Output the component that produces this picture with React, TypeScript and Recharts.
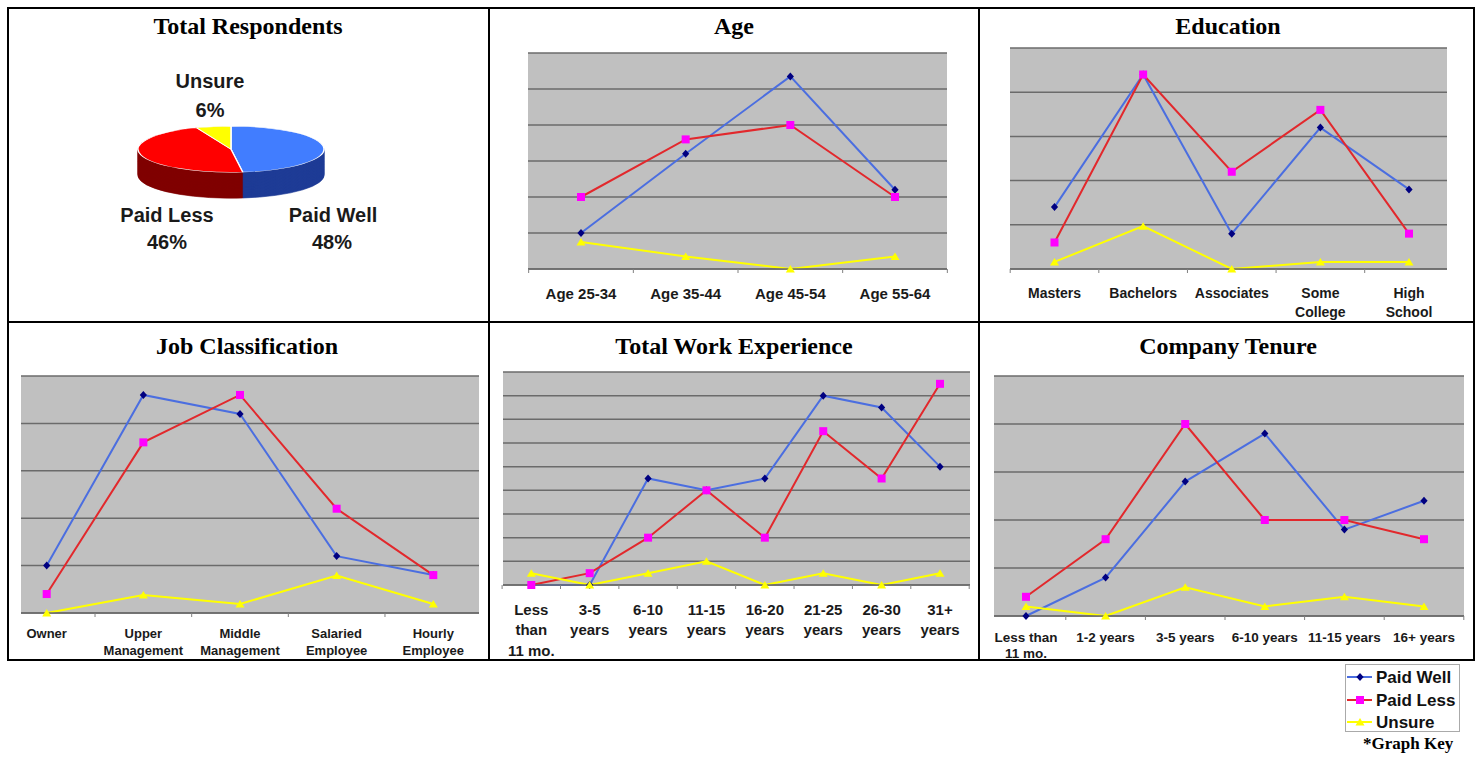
import React from "react";
import { LineChart, Line, XAxis, YAxis, CartesianGrid, PieChart, Pie, Cell } from "recharts";

// ---------- DATA ----------
const pieLabels = ["Paid Well", "Paid Less", "Unsure"];
const pieValues = [48, 46, 6];

const ageCats = ["Age 25-34", "Age 35-44", "Age 45-54", "Age 55-64"];
const agePaidWell = [1, 3.2, 5.35, 2.2];
const agePaidLess = [2, 3.6, 4, 2];
const ageUnsure = [0.75, 0.35, 0, 0.35];

const eduCats = ["Masters", "Bachelors", "Associates", "Some\nCollege", "High\nSchool"];
const eduPaidWell = [1.4, 4.4, 0.8, 3.2, 1.8];
const eduPaidLess = [0.6, 4.4, 2.2, 3.6, 0.8];
const eduUnsure = [0.16, 0.97, 0, 0.16, 0.16];

const jobCats = ["Owner", "Upper\nManagement", "Middle\nManagement", "Salaried\nEmployee", "Hourly\nEmployee"];
const jobPaidWell = [1.0, 4.6, 4.2, 1.2, 0.8];
const jobPaidLess = [0.4, 3.6, 4.6, 2.2, 0.8];
const jobUnsure = [0, 0.38, 0.19, 0.79, 0.19];

const workCats = ["Less\nthan\n11 mo.", "3-5\nyears", "6-10\nyears", "11-15\nyears", "16-20\nyears", "21-25\nyears", "26-30\nyears", "31+\nyears"];
const workPaidWell = [0, 0, 4.5, 4, 4.5, 8, 7.5, 5];
const workPaidLess = [0, 0.5, 2, 4, 2, 6.5, 4.5, 8.5];
const workUnsure = [0.5, 0, 0.5, 1, 0, 0.5, 0, 0.5];

const tenureCats = ["Less than\n11 mo.", "1-2 years", "3-5 years", "6-10 years", "11-15 years", "16+ years"];
const tenurePaidWell = [0, 0.8, 2.8, 3.8, 1.8, 2.4];
const tenurePaidLess = [0.4, 1.6, 4, 2, 2, 1.6];
const tenureUnsure = [0.2, 0, 0.6, 0.2, 0.4, 0.2];

// ---------- STYLE ----------
const SERIF = "'Liberation Serif', 'Times New Roman', serif";
const SANS = "'Liberation Sans', Arial, sans-serif";
const BLUE = "#4B6EE0";
const RED = "#E2282C";
const YELLOW = "#FFFF00";
const NAVY = "#000080";
const MAGENTA = "#FF00FF";
const GRID = "#6b6b6b";

type Cfg = {
  cats: string[];
  pw: number[];
  pl: number[];
  un: number[];
  max: number;
  x0: number;
  x1: number;
  y0: number;
  y1: number;
  padL: number;
  padR: number;
  fs: number;
  base: number;
  lineH: number;
};

const diamond = (p: any) => {
  if (p.cx == null || p.cy == null) return <g key={p.index} />;
  const { cx, cy } = p;
  return <path key={p.index} d={`M${cx},${cy - 4}L${cx + 3.6},${cy}L${cx},${cy + 4}L${cx - 3.6},${cy}Z`} fill={NAVY} />;
};
const square = (p: any) => {
  if (p.cx == null || p.cy == null) return <g key={p.index} />;
  return <rect key={p.index} x={p.cx - 4} y={p.cy - 4} width={8} height={8} fill={MAGENTA} />;
};
const triangle = (p: any) => {
  if (p.cx == null || p.cy == null) return <g key={p.index} />;
  const { cx, cy } = p;
  return <path key={p.index} d={`M${cx},${cy - 4}L${cx + 4.5},${cy + 3.5}L${cx - 4.5},${cy + 3.5}Z`} fill={YELLOW} />;
};

const emptyTick = () => <g />;

function ChartPanel({ cfg }: { cfg: Cfg }) {
  const ML = 6, MR = 6, MT = 4, XH = 75;
  const plotW = cfg.x1 - cfg.x0;
  const plotH = cfg.y1 - cfg.y0;
  const n = cfg.cats.length;
  const step = (plotW - cfg.padL - cfg.padR) / (n - 1);
  const axisY = MT + plotH;
  const data = cfg.cats.map((c, i) => ({ cat: c, pw: cfg.pw[i], pl: cfg.pl[i], un: cfg.un[i] }));
  const yTicks = Array.from({ length: cfg.max }, (_, i) => i);

  const renderTick = (props: any) => {
    const x = props.x;
    const idx = props.index;
    const lines = String(props.payload.value).split("\n");
    const lb = x - step / 2;
    const rb = x + step / 2;
    return (
      <g>
        {lb >= ML - 1 && <line x1={lb} x2={lb} y1={axisY} y2={axisY + 4} stroke="#808080" strokeWidth={1} />}
        {idx === n - 1 && rb <= ML + plotW + 1 && <line x1={rb} x2={rb} y1={axisY} y2={axisY + 4} stroke="#808080" strokeWidth={1} />}
        <text textAnchor="middle" fontFamily={SANS} fontWeight="bold" fontSize={cfg.fs} fill="#1a1a1a">
          {lines.map((l, i) => (
            <tspan key={i} x={x} y={axisY + cfg.base + i * cfg.lineH}>
              {l}
            </tspan>
          ))}
        </text>
      </g>
    );
  };

  return (
    <div style={{ position: "absolute", left: cfg.x0 - ML, top: cfg.y0 - MT }}>
      <LineChart width={plotW + ML + MR} height={plotH + MT + XH} data={data} margin={{ top: MT, left: ML, right: MR, bottom: 0 }} style={{ overflow: "visible" }}>
        <CartesianGrid vertical={false} fill="#C0C0C0" fillOpacity={1} stroke={GRID} strokeWidth={1.5} />
        <XAxis
          dataKey="cat"
          scale="point"
          interval={0}
          padding={{ left: cfg.padL, right: cfg.padR }}
          height={XH}
          axisLine={{ stroke: GRID, strokeWidth: 1.5 }}
          tickLine={false}
          tick={renderTick}
        />
        <YAxis
          width={0}
          domain={[0, cfg.max]}
          ticks={yTicks}
          interval={0}
          tick={emptyTick}
          tickSize={4}
          axisLine={{ stroke: "#8a8a8a" }}
          tickLine={{ stroke: "#8a8a8a" }}
        />
        <Line dataKey="pw" stroke={BLUE} strokeWidth={2} dot={diamond} activeDot={false} isAnimationActive={false} />
        <Line dataKey="pl" stroke={RED} strokeWidth={2} dot={square} activeDot={false} isAnimationActive={false} />
        <Line dataKey="un" stroke={YELLOW} strokeWidth={2} dot={triangle} activeDot={false} isAnimationActive={false} />
      </LineChart>
    </div>
  );
}

const ageCfg: Cfg = { cats: ageCats, pw: agePaidWell, pl: agePaidLess, un: ageUnsure, max: 6, x0: 528, x1: 947, y0: 53, y1: 269, padL: 53, padR: 52, fs: 15, base: 30, lineH: 18 };
const eduCfg: Cfg = { cats: eduCats, pw: eduPaidWell, pl: eduPaidLess, un: eduUnsure, max: 5, x0: 1010, x1: 1447, y0: 48, y1: 269, padL: 44.5, padR: 38, fs: 14, base: 29, lineH: 19 };
const jobCfg: Cfg = { cats: jobCats, pw: jobPaidWell, pl: jobPaidLess, un: jobUnsure, max: 5, x0: 21, x1: 479, y0: 376, y1: 613, padL: 25.7, padR: 45.7, fs: 13, base: 24.5, lineH: 17 };
const workCfg: Cfg = { cats: workCats, pw: workPaidWell, pl: workPaidLess, un: workUnsure, max: 9, x0: 503, x1: 970, y0: 372, y1: 585, padL: 28.3, padR: 30, fs: 15, base: 29.5, lineH: 20.5 };
const tenureCfg: Cfg = { cats: tenureCats, pw: tenurePaidWell, pl: tenurePaidLess, un: tenureUnsure, max: 5, x0: 994, x1: 1464, y0: 376, y1: 616, padL: 32, padR: 40, fs: 13.5, base: 26, lineH: 16 };

// ---------- 3D PIE ----------
const pieData = pieLabels.map((name, i) => ({ name, value: pieValues[i] }));
const topColors = ["#417DFF", "#FF0000", "#FFFF00"];
const sideColors = ["#1E3C96", "#800000", "#8a8a00"];

function Pie3D() {
  const SY = 0.2473;
  const R = 93;
  const CX = 100;
  const CY = 98;
  const STEP = 3;
  const NL = 35;
  const layers = Array.from({ length: NL }, (_, i) => NL - i);
  return (
    <div style={{ position: "absolute", left: 231 - CX, top: 149 - CY * SY, width: 200, height: 300, transform: `scaleY(${SY})`, transformOrigin: "0 0" }}>
      <PieChart width={200} height={300} margin={{ top: 0, left: 0, right: 0, bottom: 0 }}>
        {layers.map((k) => (
          <Pie
            key={k}
            data={pieData}
            dataKey="value"
            cx={CX}
            cy={CY + k * STEP}
            outerRadius={R}
            startAngle={90}
            endAngle={-270}
            isAnimationActive={false}
            labelLine={false}
          >
            {pieData.map((d, i) => (
              <Cell key={i} fill={sideColors[i]} stroke={sideColors[i]} strokeWidth={1} />
            ))}
          </Pie>
        ))}
        <Pie data={pieData} dataKey="value" cx={CX} cy={CY} outerRadius={R} startAngle={90} endAngle={-270} isAnimationActive={false} labelLine={false}>
          {pieData.map((d, i) => (
            <Cell key={i} fill={topColors[i]} stroke="#ffffff" strokeWidth={1.5} />
          ))}
        </Pie>
      </PieChart>
    </div>
  );
}

// ---------- APP ----------
export default function App() {
  const titleStyle = { fontFamily: SERIF, fontWeight: "bold" as const, fontSize: 24, fill: "#000" };
  const pieText = { fontFamily: SANS, fontWeight: "bold" as const, fontSize: 20, fill: "#1a1a1a" };
  const legText = { fontFamily: SANS, fontWeight: "bold" as const, fontSize: 17, fill: "#111" };
  return (
    <div style={{ position: "absolute", left: 0, top: 0, width: 1481, height: 758, background: "#fff", overflow: "hidden" }}>
      <svg width={1481} height={758} style={{ position: "absolute", left: 0, top: 0 }}>
        <rect x={8} y={8} width={1466} height={652} fill="#fff" stroke="#000" strokeWidth={2} />
        <line x1={489} x2={489} y1={7} y2={661} stroke="#000" strokeWidth={2} />
        <line x1={979} x2={979} y1={7} y2={661} stroke="#000" strokeWidth={2} />
        <line x1={7} x2={1475} y1={322} y2={322} stroke="#000" strokeWidth={2} />

        <text x={248} y={34} textAnchor="middle" style={titleStyle}>Total Respondents</text>
        <text x={734} y={34} textAnchor="middle" style={titleStyle}>Age</text>
        <text x={1228} y={34} textAnchor="middle" style={titleStyle}>Education</text>
        <text x={247} y={354} textAnchor="middle" style={titleStyle}>Job Classification</text>
        <text x={734} y={354} textAnchor="middle" style={titleStyle}>Total Work Experience</text>
        <text x={1228} y={354} textAnchor="middle" style={titleStyle}>Company Tenure</text>

        <text x={210} y={88} textAnchor="middle" style={pieText}>{pieLabels[2]}</text>
        <text x={210} y={117} textAnchor="middle" style={pieText}>{pieValues[2]}%</text>
        <text x={167} y={222} textAnchor="middle" style={pieText}>{pieLabels[1]}</text>
        <text x={167} y={249} textAnchor="middle" style={pieText}>{pieValues[1]}%</text>
        <text x={333} y={222} textAnchor="middle" style={pieText}>{pieLabels[0]}</text>
        <text x={332} y={249} textAnchor="middle" style={pieText}>{pieValues[0]}%</text>

        <rect x={1345.5} y={664.5} width={114} height={67} fill="#fff" stroke="#aaaaaa" strokeWidth={1} />
        <line x1={1347} x2={1372} y1={677} y2={677} stroke={BLUE} strokeWidth={2} />
        <path d="M1360,673L1363.6,677L1360,681L1356.4,677Z" fill={NAVY} />
        <text x={1376} y={683} style={legText}>Paid Well</text>
        <line x1={1347} x2={1372} y1={700} y2={700} stroke={RED} strokeWidth={2} />
        <rect x={1356} y={696} width={8} height={8} fill={MAGENTA} />
        <text x={1376} y={706} style={legText}>Paid Less</text>
        <line x1={1347} x2={1372} y1={722} y2={722} stroke={YELLOW} strokeWidth={2} />
        <path d="M1360,718L1364.5,725.5L1355.5,725.5Z" fill={YELLOW} />
        <text x={1376} y={728} style={legText}>Unsure</text>
        <text x={1363} y={749} style={{ fontFamily: SERIF, fontWeight: "bold", fontSize: 17, fill: "#000" }}>*Graph Key</text>
      </svg>
      <Pie3D />
      <ChartPanel cfg={ageCfg} />
      <ChartPanel cfg={eduCfg} />
      <ChartPanel cfg={jobCfg} />
      <ChartPanel cfg={workCfg} />
      <ChartPanel cfg={tenureCfg} />
    </div>
  );
}
